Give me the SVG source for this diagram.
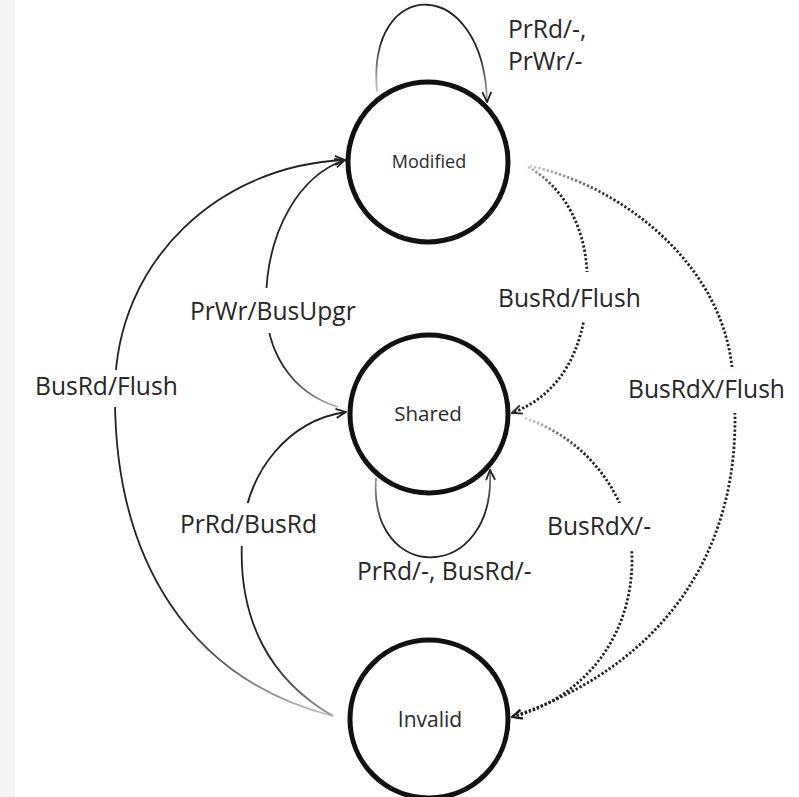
<svg xmlns="http://www.w3.org/2000/svg" width="799" height="797" viewBox="0 0 799 797">
  <style>
    .state circle { fill: #fff; stroke: #111; stroke-width: 5; }
    .state text { font-family: "Open Sans", "Liberation Sans", sans-serif; fill: #2a2a2a; text-anchor: middle; }
    .edge { fill: none; stroke-width: 1.8; marker-end: url(#arrow); }
    .dotted { stroke-width: 2.8; stroke-dasharray: 2.3 2; }
    .label { font-family: "Open Sans", "Liberation Sans", sans-serif; font-size: 24.6px; fill: #262626; }
  </style>
  <defs>
    <marker id="arrow" viewBox="0 0 12 12" refX="11" refY="6" markerWidth="12" markerHeight="12" markerUnits="userSpaceOnUse" orient="auto">
      <path d="M1,1.5 L11,6 L1,10.5" fill="none" stroke="#222" stroke-width="1.8"/>
    </marker>
    <!-- strokes fade in from their source state -->
    <linearGradient id="g-inv-mod" gradientUnits="userSpaceOnUse" x1="333" y1="716" x2="170" y2="620">
      <stop offset="0" stop-color="#c4c4c4"/><stop offset="1" stop-color="#222"/>
    </linearGradient>
    <linearGradient id="g-inv-sh" gradientUnits="userSpaceOnUse" x1="333" y1="716" x2="270" y2="660">
      <stop offset="0" stop-color="#a0a0a0"/><stop offset="1" stop-color="#222"/>
    </linearGradient>
    <linearGradient id="g-sh-mod" gradientUnits="userSpaceOnUse" x1="338" y1="407" x2="285" y2="370">
      <stop offset="0" stop-color="#b0b0b0"/><stop offset="1" stop-color="#222"/>
    </linearGradient>
    <linearGradient id="g-loop-mod" gradientUnits="userSpaceOnUse" x1="377" y1="92" x2="385" y2="40">
      <stop offset="0" stop-color="#c8c8c8"/><stop offset="1" stop-color="#222"/>
    </linearGradient>
    <linearGradient id="g-loop-sh" gradientUnits="userSpaceOnUse" x1="376" y1="478" x2="385" y2="530">
      <stop offset="0" stop-color="#999"/><stop offset="1" stop-color="#222"/>
    </linearGradient>
    <linearGradient id="g-mod-sh" gradientUnits="userSpaceOnUse" x1="528" y1="167" x2="555" y2="190">
      <stop offset="0" stop-color="#c8c8c8"/><stop offset="1" stop-color="#222"/>
    </linearGradient>
    <linearGradient id="g-mod-inv" gradientUnits="userSpaceOnUse" x1="530" y1="166" x2="615" y2="200">
      <stop offset="0" stop-color="#d0d0d0"/><stop offset="1" stop-color="#222"/>
    </linearGradient>
    <linearGradient id="g-sh-inv" gradientUnits="userSpaceOnUse" x1="525" y1="418" x2="585" y2="450">
      <stop offset="0" stop-color="#d0d0d0"/><stop offset="1" stop-color="#222"/>
    </linearGradient>
    <!-- transition lines break around their labels -->
    <mask id="label-gaps" maskUnits="userSpaceOnUse" x="0" y="0" width="799" height="797">
      <rect width="799" height="797" fill="#fff"/>
      <rect x="30" y="370" width="160" height="37" fill="#000"/>
      <rect x="185" y="288" width="180" height="45" fill="#000"/>
      <rect x="175" y="503" width="150" height="43" fill="#000"/>
      <rect x="500" y="272" width="160" height="50" fill="#000"/>
      <rect x="620" y="367" width="175" height="46" fill="#000"/>
      <rect x="540" y="503" width="125" height="48" fill="#000"/>
    </mask>
  </defs>

  <rect width="799" height="797" fill="#fff"/>
  <rect width="15" height="797" fill="#f5f5f5"/>

  <g id="node-modified" class="state">
    <circle cx="428" cy="162" r="80"/>
    <text x="429" y="168" font-size="18">Modified</text>
  </g>
  <g id="node-shared" class="state">
    <circle cx="429" cy="414" r="79"/>
    <text x="428" y="421" font-size="20.5">Shared</text>
  </g>
  <g id="node-invalid" class="state">
    <circle cx="429" cy="719" r="79"/>
    <text x="430" y="727" font-size="21">Invalid</text>
  </g>

  <g id="connectors" mask="url(#label-gaps)">
    <!-- Modified self-loop -->
    <path class="edge" stroke="url(#g-loop-mod)" d="M377,92 C366,-26 484,-26 487,102"/>
    <!-- Invalid -> Modified -->
    <path class="edge" stroke="url(#g-inv-mod)" d="M333,716 C190,680 113,560 115,390 C116,260 220,165 345,160"/>
    <!-- Shared -> Modified -->
    <path class="edge" stroke="url(#g-sh-mod)" d="M338,407 C290,392 265,350 266,300 C267,230 300,175 345,160"/>
    <!-- Invalid -> Shared -->
    <path class="edge" stroke="url(#g-inv-sh)" d="M333,716 C270,680 238,620 242,540 C245,470 290,420 346,412"/>
    <!-- Shared self-loop -->
    <path class="edge" stroke="url(#g-loop-sh)" d="M376,478 C368,585 496,585 490,470"/>
    <!-- Modified -> Shared (bus) -->
    <path class="edge dotted" stroke="url(#g-mod-sh)" d="M528,167 C570,190 590,240 587,290 C585,350 560,395 512,413"/>
    <!-- Modified -> Invalid (bus) -->
    <path class="edge dotted" stroke="url(#g-mod-inv)" d="M530,166 C620,185 728,265 733,380 C748,530 680,660 512,717"/>
    <!-- Shared -> Invalid (bus) -->
    <path class="edge dotted" stroke="url(#g-sh-inv)" d="M525,418 C590,440 632,500 632,560 C632,640 580,700 512,717"/>
  </g>

  <g id="labels">
    <text class="label" x="508" y="38">PrRd/-,</text>
    <text class="label" x="508" y="70">PrWr/-</text>
    <text class="label" x="190" y="320">PrWr/BusUpgr</text>
    <text class="label" x="498" y="307">BusRd/Flush</text>
    <text class="label" x="35" y="395">BusRd/Flush</text>
    <text class="label" x="628" y="398">BusRdX/Flush</text>
    <text class="label" x="180" y="533">PrRd/BusRd</text>
    <text class="label" x="547" y="535">BusRdX/-</text>
    <text class="label" x="357" y="580">PrRd/-, BusRd/-</text>
  </g>
</svg>
